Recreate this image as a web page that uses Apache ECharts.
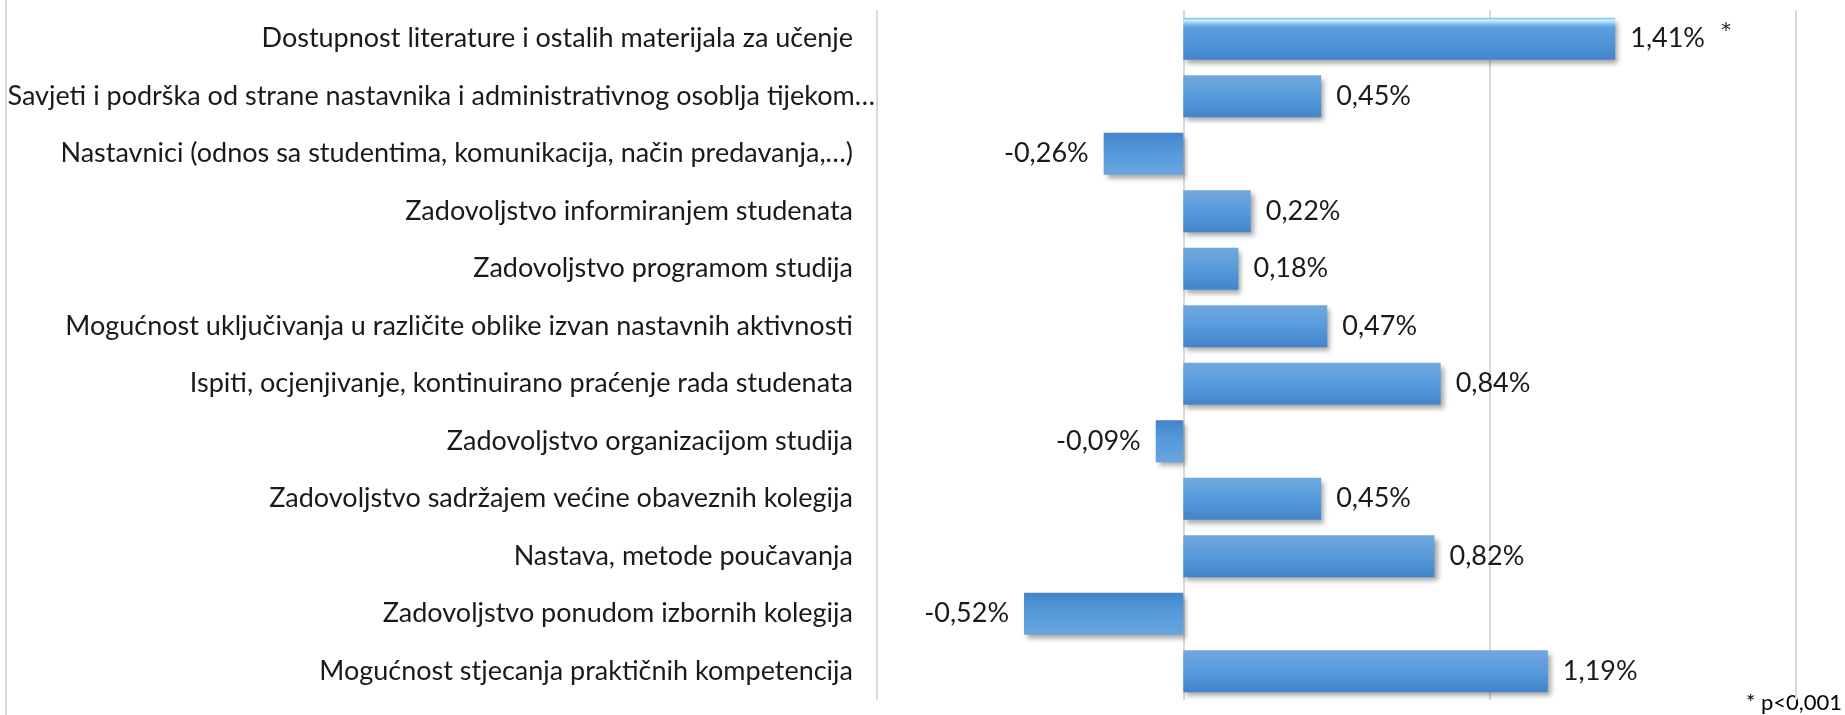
<!DOCTYPE html>
<html>
<head>
<meta charset="utf-8">
<title>Razlike u zadovoljstvu</title>
<script src="https://cdn.jsdelivr.net/npm/echarts@6/dist/echarts.min.js"></script>
<style>
  html, body { margin: 0; padding: 0; background: #fff; }
  #chart { width: 1845px; height: 715px; }
</style>
</head>
<body>
<div id="chart"></div>
<script>
// kategorije, odozgo prema dolje
const categories = [
  'Dostupnost literature i ostalih materijala za učenje',
  'Savjeti i podrška od strane nastavnika i administrativnog osoblja tijekom…',
  'Nastavnici (odnos sa studentima, komunikacija, način predavanja,…)',
  'Zadovoljstvo informiranjem studenata',
  'Zadovoljstvo programom studija',
  'Mogućnost uključivanja u različite oblike izvan nastavnih aktivnosti',
  'Ispiti, ocjenjivanje, kontinuirano praćenje rada studenata',
  'Zadovoljstvo organizacijom studija',
  'Zadovoljstvo sadržajem većine obaveznih kolegija',
  'Nastava, metode poučavanja',
  'Zadovoljstvo ponudom izbornih kolegija',
  'Mogućnost stjecanja praktičnih kompetencija'
]
const values = [1.41, 0.45, -0.26, 0.22, 0.18, 0.47, 0.84, -0.09, 0.45, 0.82, -0.52, 1.19]
const significant = [true, false, false, false, false, false, false, false, false, false, false, false]
const axisTicks = [-1, 0, 1, 2]

const font = '"Lato", "Open Sans", sans-serif'

const gradPos = new echarts.graphic.LinearGradient(0, 0, 0, 1, [
  { offset: 0, color: '#72a8de' },
  { offset: 0.5, color: '#569bdb' },
  { offset: 1, color: '#4384ca' }
])
const gradNeg = new echarts.graphic.LinearGradient(0, 0, 0, 1, [
  { offset: 0, color: '#4384ca' },
  { offset: 0.5, color: '#569bdb' },
  { offset: 1, color: '#6aa4de' }
])
// istaknuti stupac (bevel efekt)
const gradBevel = new echarts.graphic.LinearGradient(0, 0, 0, 1, [
  { offset: 0, color: '#7fb9ea' },
  { offset: 0.06, color: '#c6f2ff' },
  { offset: 0.14, color: '#8cc6f0' },
  { offset: 0.22, color: '#5da0e0' },
  { offset: 0.6, color: '#4f94d8' },
  { offset: 1, color: '#4484ca' }
])

const fmt = v => v.toFixed(2).replace('.', ',') + '%'

const chart = echarts.init(document.getElementById('chart'))
chart.setOption({
  animation: false,
  backgroundColor: '#fff',
  grid: { left: 877, right: 49, top: 10, bottom: 15, containLabel: false },
  xAxis: {
    type: 'value',
    min: axisTicks[0],
    max: axisTicks[axisTicks.length - 1],
    interval: 1,
    axisLabel: { show: false },
    axisLine: { show: false },
    axisTick: { show: false },
    splitLine: { show: true, lineStyle: { color: '#d9d9d9', width: 2 } }
  },
  yAxis: {
    type: 'category',
    inverse: true,
    data: categories,
    axisLine: { show: false },
    axisTick: { show: false },
    axisLabel: {
      margin: 0,
      fontFamily: font,
      fontSize: 27,
      color: '#1a1a1a',
      formatter: (val) => (val.endsWith('…') ? '{b|' + val + '}' : '{a|' + val + '}'),
      rich: {
        a: { fontFamily: font, fontSize: 27, color: '#1a1a1a', padding: [0, 24, 0, 0] },
        b: { fontFamily: font, fontSize: 27, color: '#1a1a1a', padding: [0, 2, 0, 0] }
      }
    }
  },
  series: [{
    type: 'bar',
    barWidth: 42,
    data: values.map((v, i) => ({
      value: v,
      itemStyle: { color: i === 0 ? gradBevel : (v >= 0 ? gradPos : gradNeg) },
      label: { position: v >= 0 ? 'right' : 'left' }
    })),
    itemStyle: {
      shadowColor: 'rgba(0,0,0,0.35)',
      shadowBlur: 5,
      shadowOffsetX: 3,
      shadowOffsetY: 4
    },
    label: {
      show: true,
      distance: 15,
      fontFamily: font,
      fontSize: 27,
      color: '#1a1a1a',
      formatter: p => significant[p.dataIndex] ? '{v|' + fmt(p.value) + '}{s|*}' : fmt(p.value),
      rich: {
        v: { fontFamily: font, fontSize: 27, color: '#1a1a1a' },
        s: { fontFamily: '"DejaVu Sans", sans-serif', fontSize: 20, color: '#1a1a1a', padding: [0, 0, 16, 16] }
      }
    }
  }],
  graphic: [
    {
      type: 'line',
      shape: { x1: 6, y1: 0, x2: 6, y2: 715 },
      style: { stroke: '#d9d9d9', lineWidth: 2 }
    },
    {
      type: 'text',
      right: 3,
      bottom: 1,
      style: { text: '* p<0,001', font: '22px ' + font, fill: '#000' }
    }
  ]
})
</script>
</body>
</html>
